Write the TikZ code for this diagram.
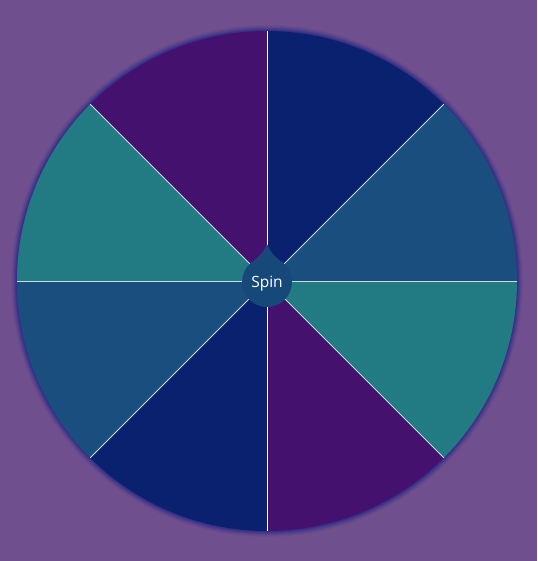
\documentclass[tikz,border=0pt]{standalone}
\usepackage{fontspec}
\setmainfont{Open Sans}
\definecolor{bgc}{HTML}{6F4F8E}
\definecolor{navy}{HTML}{0A2170}
\definecolor{bluec}{HTML}{1A4E7E}
\definecolor{tealc}{HTML}{227A83}
\definecolor{purp}{HTML}{44116F}
\definecolor{btn}{HTML}{16497A}
\definecolor{glow}{HTML}{2A2A88}
\definecolor{divc}{HTML}{C8DCE8}
\begin{document}
\begin{tikzpicture}[x=1pt,y=-1pt,
  divider/.style={draw=divc,line width=0.8pt},
  slice/.style={line width=0pt}]
\fill[bgc] (0,0) rectangle (537,561);
\useasboundingbox (0,0) rectangle (537,561);
\coordinate (c) at (267,281);
% glow
\foreach \r/\o in {256/0.06,255/0.1,254/0.16,253/0.24,252/0.34,251/0.5}{
  \fill[glow,opacity=\o] (c) circle[radius=\r pt];
}
% slices
\foreach \a/\col in {90/navy,45/bluec,0/tealc,-45/purp,-90/navy,-135/bluec,180/tealc,135/purp}{
  \fill[\col] (c) -- ([shift={(c)}]\a:250pt) arc[start angle=\a,delta angle=-45,radius=250pt] -- cycle;
}
% dividers
\foreach \a in {45,0,-45,-135,180,135}{
  \coordinate (e\a) at ([shift={(c)}]\a:250pt);
  \draw[divider] (c) -- (e\a);
}
\coordinate (etop) at ([shift={(c)}]90:250pt);
\coordinate (ebot) at ([shift={(c)}]-90:250pt);
\draw[white,line width=1pt] (c) -- (etop);
\draw[white,line width=1pt] (c) -- (ebot);
% button
\coordinate (bc) at (267,282);
\coordinate (tip) at (267,244);
\fill[btn] (bc) circle[radius=25pt];
\fill[btn] (tip) .. controls (264,252) and (258,258) .. (251,263) -- (283,263) .. controls (276,258) and (270,252) .. (tip) -- cycle;
\node[text=white,font=\fontsize{15.5}{17}\selectfont] (spin) at (267,283.5) {Spin};
\end{tikzpicture}
\end{document}
